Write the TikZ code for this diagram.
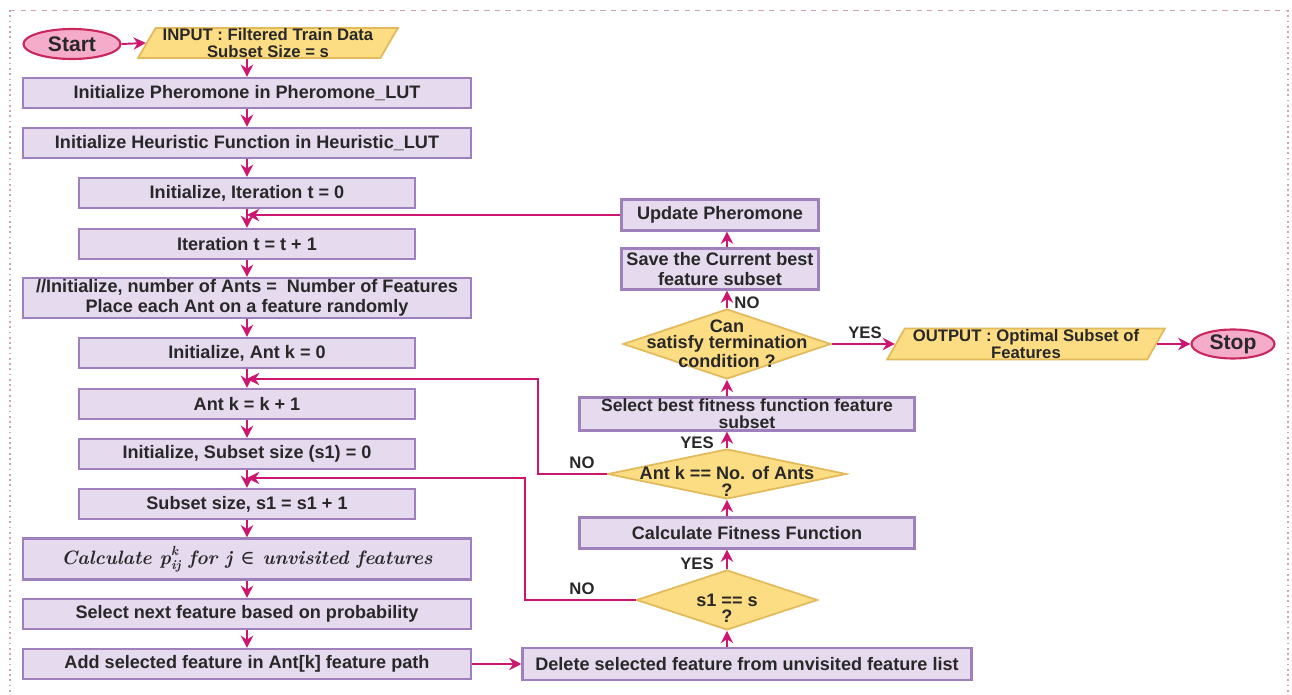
\documentclass[tikz,border=0pt]{standalone}
\usepackage{fontspec}
\setsansfont{Liberation Sans}
\newfontfamily\symfont{DejaVu Serif}
\usetikzlibrary{shapes.geometric,arrows.meta}
\definecolor{procfill}{RGB}{230,218,238}
\definecolor{procline}{RGB}{158,128,188}
\definecolor{flowc}{RGB}{204,22,112}
\definecolor{iofill}{RGB}{252,221,132}
\definecolor{ioline}{RGB}{226,186,92}
\definecolor{termfill}{RGB}{245,172,202}
\definecolor{termline}{RGB}{200,40,92}
\definecolor{txtc}{RGB}{40,40,40}
\definecolor{framec}{RGB}{205,165,172}
\newcommand{\probtxt}{\rmfamily\bfseries\itshape\fontsize{11}{13}\selectfont Calculate
    p\raisebox{-2.6pt}{\fontsize{7.5}{6.8}\selectfont\shortstack[l]{k\\ij}} for j
    {\upshape\mdseries\symfont ∈} unvisited features}
\begin{document}
\begin{tikzpicture}[x = 0.02cm, y = -0.02cm,
        txt/.style = {font = \sffamily\fontsize{10.3}{11.5}\selectfont\bfseries, text = txtc},
        proc/.style = {txt, draw = procline, fill = procfill, line width = 1.2pt,
            inner sep = 0pt, align = center, minimum height = 0.6cm},
        wideproc/.style = {proc, minimum width = 8.96cm},
        narrowproc/.style = {proc, minimum width = 6.72cm},
        iobox/.style = {txt, font = \sffamily\fontsize{9.5}{9.2}\selectfont\bfseries, draw = ioline,
            fill = iofill, line width = 1pt, trapezium, trapezium left angle = 60,
            trapezium right angle = 120, trapezium stretches = true, inner sep = 0pt,
            align = center, minimum height = 0.6cm},
        terminal/.style = {txt, font = \sffamily\fontsize{12}{14}\selectfont\bfseries, ellipse,
            draw = termline, fill = termfill, line width = 1.2pt, inner sep = 0pt},
        decision/.style = {diamond, draw = ioline, fill = iofill, line width = 1pt, inner sep = 0pt},
        dtext/.style = {txt, align = center, font = \sffamily\fontsize{10.3}{9.2}\selectfont\bfseries},
        tighttxt/.style = {font = \sffamily\fontsize{10}{9.8}\selectfont\bfseries},
        flow/.style = {draw = flowc, line width = 1.1pt, -{Stealth[length = 7pt, width = 7pt]}}]
    \useasboundingbox (0,0) rectangle (1292,695);
    \draw[framec, dashed] (10,10) -- (1288,10);
    \draw[framec, dotted, line width = 1pt] (10,10) -- (10,695);
    \draw[framec, dotted, line width = 1pt] (1288,10) -- (1288,695);

    \node[terminal, minimum width = 1.94cm, minimum height = 0.6cm] (start) at (72,44) {Start};
    \node[iobox, minimum width = 5.2cm] (input) at (268,43) {INPUT : Filtered Train Data\\Subset Size = s};
    \node[wideproc] (phero) at (247,93) {Initialize Pheromone in Pheromone\_LUT};
    \node[wideproc] (heur) at (247,143) {Initialize Heuristic Function in Heuristic\_LUT};
    \node[narrowproc] (itzero) at (247,193) {Initialize, Iteration t = 0};
    \node[narrowproc] (itinc) at (247,244) {Iteration t = t + 1};
    \node[wideproc, minimum height = 0.8cm] (ants) at (247,298) {//Initialize, number of Ants = \ Number of Features\\Place each Ant on a feature randomly};
    \node[narrowproc] (kzero) at (247,353) {Initialize, Ant k = 0};
    \node[narrowproc] (kinc) at (247,404) {Ant k = k + 1};
    \node[narrowproc] (szero) at (247,454) {Initialize, Subset size (s1) = 0};
    \node[narrowproc] (sinc) at (247,504) {Subset size, s1 = s1 + 1};
    \node[wideproc, minimum height = 0.82cm] (prob) at (247,559) {\probtxt};
    \node[wideproc] (select) at (247,614) {Select next feature based on probability};
    \node[wideproc] (addf) at (247,664) {Add selected feature in Ant[k] feature path};

    \node[proc, minimum width = 8.98cm, minimum height = 0.64cm] (delf) at (747,664) {Delete selected feature from unvisited feature list};
    \node[decision, minimum width = 3.62cm, minimum height = 1.2cm, label = {[dtext, yshift = -0.16cm]center:{s1 == s\\?}}] (s1chk) at (727,600) {};
    \node[proc, minimum width = 6.7cm, minimum height = 0.62cm] (fit) at (747,533) {Calculate Fitness Function};
    \node[decision, minimum width = 4.78cm, minimum height = 1.0cm, label = {[dtext, yshift = -0.15cm]center:{Ant k == No. of Ants\\?}}] (antchk) at (727,474) {};
    \node[proc, tighttxt, minimum width = 6.7cm, minimum height = 0.66cm] (best) at (747,414) {Select best fitness function feature\\subset};
    \node[decision, minimum width = 4.16cm, minimum height = 1.4cm, label = {[dtext]center:{Can\\satisfy termination\\condition ?}}] (term) at (727,344) {};
    \node[proc, minimum width = 3.94cm, minimum height = 0.82cm] (save) at (720,269) {Save the Current best\\feature subset};
    \node[proc, minimum width = 3.94cm, minimum height = 0.62cm] (upd) at (720,215) {Update Pheromone};
    \node[iobox, minimum width = 5.56cm, minimum height = 0.62cm] (output) at (1026,344) {OUTPUT : Optimal Subset of\\Features};
    \node[terminal, minimum width = 1.66cm, minimum height = 0.58cm] (stop) at (1233,344) {Stop};

    \draw[flow] (start.east) -- (input.west);
    \foreach \a/\b in {input/phero, phero/heur, heur/itzero, itzero/itinc, itinc/ants, ants/kzero,
            kzero/kinc, kinc/szero, szero/sinc, sinc/prob, prob/select, select/addf}
        \draw[flow] (\b.north |- \a.south) -- (\b.north);
    \draw[flow] (addf.east) -- (delf.west);
    \draw[flow] (s1chk.south |- delf.north) -- (s1chk.south);
    \draw[flow] (s1chk.north) -- (s1chk.north |- fit.south);
    \draw[flow] (antchk.south |- fit.north) -- (antchk.south);
    \draw[flow] (antchk.north) -- (antchk.north |- best.south);
    \draw[flow] (term.south |- best.north) -- (term.south);
    \draw[flow] (term.north) -- (term.north |- save.south);
    \draw[flow] (term.north |- save.north) -- (term.north |- upd.south);
    \draw[flow] (term.east) -- (output.west);
    \draw[flow] (output.east) -- (stop.west);

    \coordinate (antloop) at (538,379);
    \coordinate (sloop) at (525,478);
    \draw[flow] (upd.west) -- (itinc.north |- upd.west);
    \draw[flow] (antchk.west) -| (antloop) -- (antloop -| kinc.north);
    \draw[flow] (s1chk.west) -| (sloop) -- (sloop -| sinc.north);

    \begin{scope}[every node/.append style = {txt, font = \sffamily\fontsize{9.5}{11}\selectfont\bfseries}]
        \node (noant) at (582,463) {NO};
        \node (yesant) at (697,443) {YES};
        \node (nos1) at (582,589) {NO};
        \node (yess1) at (697,564) {YES};
        \node (noterm) at (747,303) {NO};
        \node (yesterm) at (865,333) {YES};
    \end{scope}
\end{tikzpicture}
\end{document}
